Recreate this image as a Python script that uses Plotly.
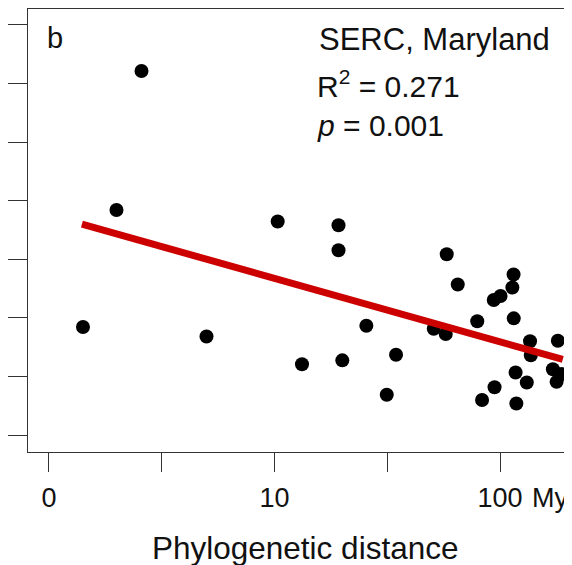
import plotly.graph_objects as go

# ---- data ----
dist_my = [1.415, 1.992, 2.572, 4.994, 10.33, 13.24, 19.22, 19.22, 19.98, 25.54,
           31.45, 34.58, 50.82, 57.44, 58.02, 64.93, 79.23, 83.22, 94.54, 93.76,
           100.5, 114.8, 113.4, 115.0, 117.2, 118.1, 131.4, 135.8, 136.9, 180.4,
           171.5, 187.8, 178.1]
similarity = [1.844, 3.842, 6.215, 1.682, 3.645, 1.207, 3.580, 3.154, 1.275, 1.866,
              0.688, 1.371, 1.815, 1.724, 3.085, 2.570, 1.943, 0.598, 0.816, 2.305,
              2.373, 2.740, 2.518, 1.992, 1.067, 0.538, 0.896, 1.600, 1.362, 1.610,
              1.123, 1.041, 0.908]
fit_x = [1.40, 189.7]
fit_y = [3.60, 1.29]

x_tickvals = [1, 10 ** 0.5, 10, 10 ** 1.5, 100]
x_ticktext = ["0", "", "10", "", "100"]
y_tickvals = [0, 1, 2, 3, 4, 5, 6, 7]

site_label = "SERC, Maryland"
r2_label = "R<sup>2</sup> = 0.271"
p_label = "<i>p</i> = 0.001"
panel_label = "b"
x_title = "Phylogenetic distance"

FONT = "Liberation Sans, Arial, sans-serif"
OFF = 8                      # page body margin
W, H = 572 - OFF, 565 - OFF  # figure size
L, R, T = 28 - OFF, 0, 9 - OFF
B = H - (452 - OFF)

# page-pixel -> paper coordinates
def px(xp):
    return (xp - 28) / (572 - 28)

def py(yp):
    return (452 - yp) / (452 - 9)

fig = go.Figure()
fig.add_trace(go.Scatter(x=dist_my, y=similarity, mode="markers",
                         marker=dict(size=14, color="black"), hoverinfo="skip",
                         showlegend=False))
fig.add_trace(go.Scatter(x=fit_x, y=fit_y, mode="lines",
                         line=dict(color="#CD0000", width=7), showlegend=False))

fig.update_xaxes(type="log", range=[-0.093, 2.319], tickvals=x_tickvals,
                 ticktext=x_ticktext, ticks="outside", ticklen=19, tickwidth=1.3,
                 tickcolor="#333", showline=True, linecolor="#333", linewidth=1.3,
                 mirror=True, showgrid=False, zeroline=False,
                 tickfont=dict(size=27, color="#111", family=FONT),
                 ticklabelstandoff=2)
fig.update_yaxes(range=[-0.29, 7.273], tickvals=y_tickvals, ticks="outside",
                 ticklen=19, tickwidth=1.3, tickcolor="#333", showline=True,
                 linecolor="#333", linewidth=1.3, mirror=False, showgrid=False,
                 zeroline=False, showticklabels=False)

ann_font = dict(family=FONT, size=30, color="#111")
annotations = [
    dict(text=panel_label, x=px(45), y=py(38), xanchor="left", yanchor="middle",
         font=dict(family=FONT, size=29, color="#111")),
    dict(text=site_label, x=px(317), y=py(40), xanchor="left", yanchor="middle",
         font=dict(family=FONT, size=31, color="#111")),
    dict(text=r2_label, x=px(315), y=py(84), xanchor="left", yanchor="middle"),
    dict(text=p_label, x=px(315), y=py(126), xanchor="left", yanchor="middle"),
    dict(text=x_title, x=px(305), y=py(548), xanchor="center", yanchor="middle",
         font=dict(family=FONT, size=31.5, color="#111")),
]
for a in annotations:
    a.setdefault("font", ann_font)
    a.update(xref="paper", yref="paper", showarrow=False)
# unit suffix next to the last tick label
annotations.append(dict(text="My", xref="x", yref="paper", x=2, y=py(498),
                        xanchor="left", yanchor="middle", xshift=30, showarrow=False,
                        font=dict(family=FONT, size=27, color="#111")))

fig.update_layout(width=W, height=H, margin=dict(l=L, r=R, t=T, b=B),
                  plot_bgcolor="white", paper_bgcolor="white",
                  annotations=annotations, font=dict(family=FONT))

fig.write_html("out.html")
